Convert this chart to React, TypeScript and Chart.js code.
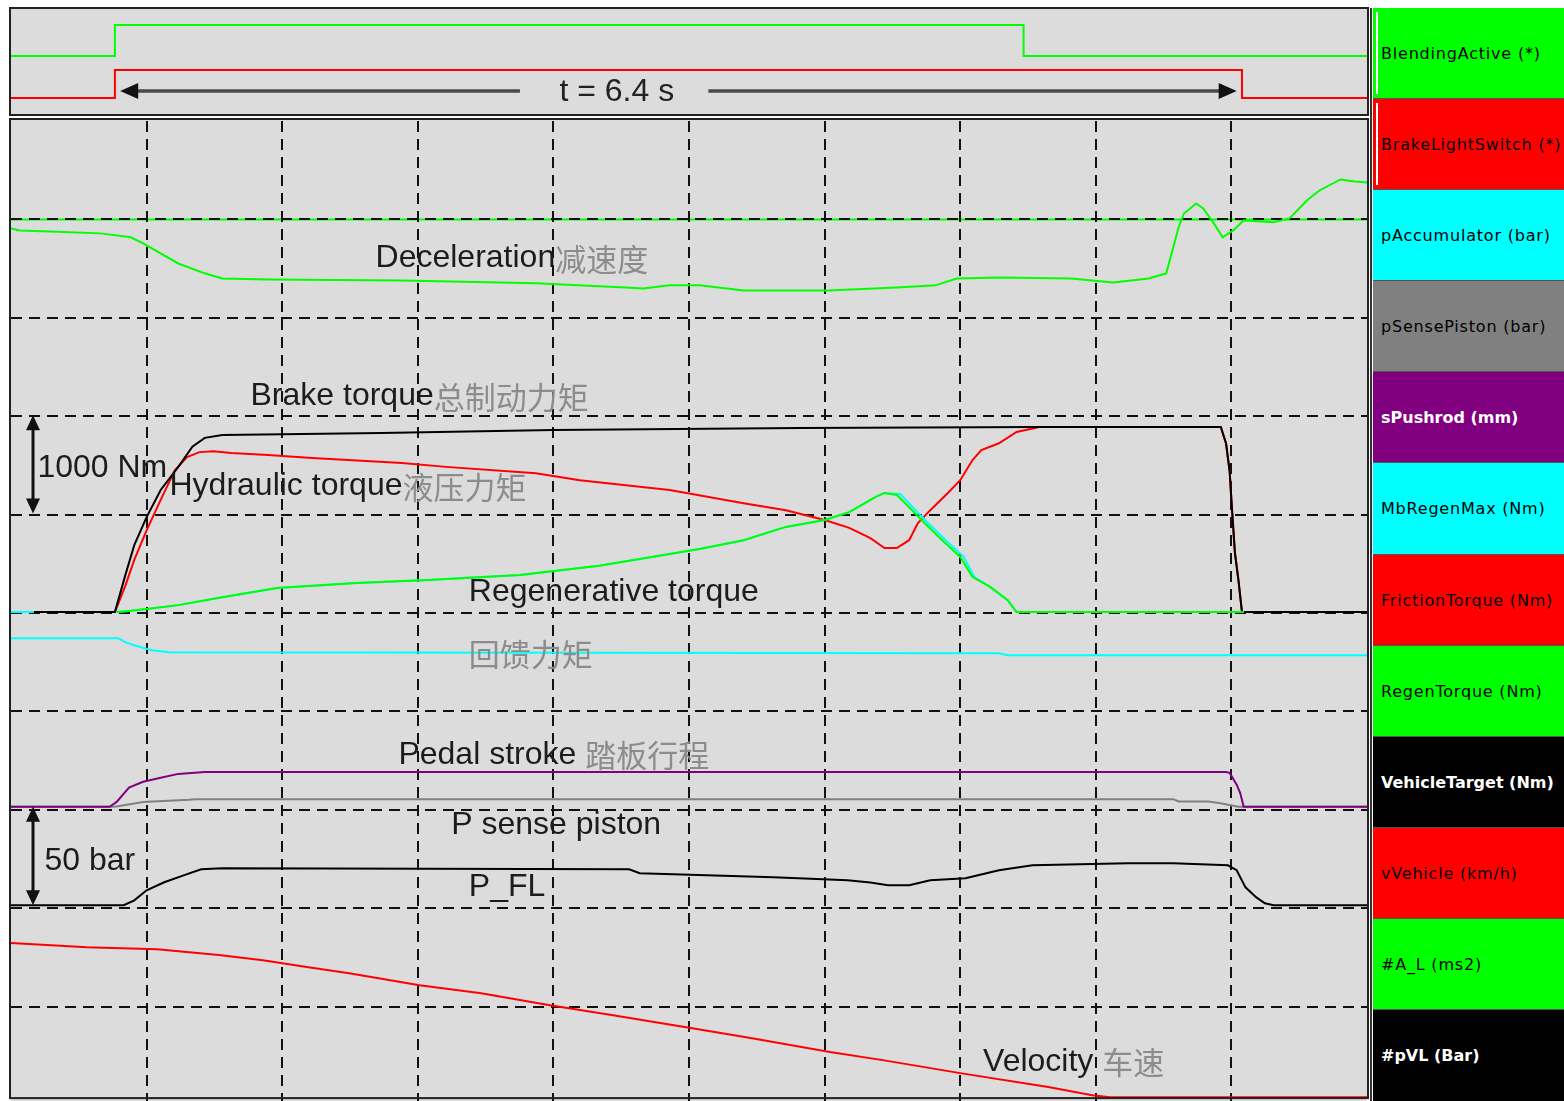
import React, { useEffect, useRef } from 'react';
import { Chart, registerables } from 'chart.js';

Chart.register(...registerables);

type Pt = [number, number | null];

// ---------------- time / grid ----------------
const TIME_MAX_S = 7.7;
const TIME_GRID_S = [0.77, 1.54, 2.31, 3.08, 3.85, 4.62, 5.39, 6.16, 6.93];
const DIV_GRID = [1, 2, 3, 4, 5, 6, 7, 8, 9];

// ---------------- top panel (digital) ----------------
const BLENDING_ACTIVE: Pt[] = [[0, 0], [0.59, 1], [5.75, 0], [7.7, 0]];
const BRAKE_LIGHT_SWITCH: Pt[] = [[0, 0], [0.59, 1], [6.99, 0], [7.7, 0]];
const DURATION_LABEL = 't = 6.4 s';

// ---------------- bottom panel (analog) ----------------
// Nm
const VEHICLE_TARGET_NM: Pt[] = [[0, 0], [0.59, 0], [0.65, 380], [0.70, 680], [0.77, 965], [0.85, 1240], [0.95, 1475], [1.03, 1680], [1.10, 1770], [1.20, 1800], [2.10, 1820], [3.08, 1850], [4.48, 1870], [5.84, 1880], [6.87, 1880], [6.90, 1710], [6.92, 1430], [6.93, 1140], [6.95, 600], [6.97, 325], [6.99, 0], [7.7, 0]];
const FRICTION_TORQUE_NM: Pt[] = [[0.59, 0], [0.65, 270], [0.70, 530], [0.77, 830], [0.85, 1140], [0.93, 1440], [1.00, 1575], [1.07, 1625], [1.15, 1635], [1.25, 1615], [1.46, 1595], [1.71, 1565], [2.22, 1515], [2.47, 1475], [2.98, 1410], [3.23, 1340], [3.74, 1240], [4.16, 1105], [4.40, 1035], [4.62, 935], [4.76, 855], [4.88, 750], [4.96, 650], [5.03, 650], [5.10, 730], [5.15, 905], [5.22, 1035], [5.32, 1210], [5.39, 1340], [5.46, 1545], [5.51, 1645], [5.61, 1715], [5.71, 1830], [5.84, 1880], [6.87, 1880], [6.90, 1710], [6.92, 1430], [6.93, 1140], [6.95, 600], [6.97, 325], [6.99, 0], [7.7, 0]];
const REGEN_TORQUE_NM: Pt[] = [[0.60, 0], [0.67, 10], [0.77, 30], [0.95, 70], [1.20, 150], [1.51, 245], [1.96, 295], [2.37, 325], [2.89, 375], [3.34, 470], [3.91, 640], [4.16, 730], [4.40, 865], [4.62, 935], [4.76, 1015], [4.91, 1170], [4.96, 1210], [5.03, 1190], [5.10, 1065], [5.17, 935], [5.27, 760], [5.39, 560], [5.46, 355], [5.56, 255], [5.66, 120], [5.71, 0], [7.00, 0]];
const MB_REGEN_MAX_NM: Pt[] = [[0, 0], [0.13, 0], [0.14, null], [0.59, null], [0.60, 0], [0.67, 10], [0.77, 30], [0.95, 70], [1.20, 150], [1.51, 245], [1.96, 295], [2.37, 325], [2.89, 375], [3.34, 470], [3.91, 640], [4.16, 730], [4.40, 865], [4.62, 935], [4.76, 1015], [4.91, 1170], [4.96, 1210], [5.05, 1200], [5.12, 1065], [5.19, 935], [5.29, 760], [5.41, 560], [5.47, 355], [5.56, 255], [5.66, 120], [5.71, 0], [7.00, 0]];
// mm
const PUSHROD_MM: Pt[] = [[0, 0], [0.56, 0], [0.60, 1.0], [0.67, 3.9], [0.75, 5.1], [0.85, 5.9], [0.95, 6.7], [1.10, 7.1], [6.90, 7.1], [6.92, 6.9], [6.96, 4.5], [6.98, 2.8], [7.00, 0], [7.7, 0]];
// bar
const SENSE_PISTON_BAR: Pt[] = [[0, 0], [0.59, 0], [0.75, 2.5], [1.01, 3.6], [1.05, 3.9], [6.60, 3.9], [6.63, 2.7], [6.80, 2.7], [6.86, 2.0], [6.97, 0], [7.7, 0]];
const P_FL_BAR: Pt[] = [[0, 0], [0.64, 0], [0.70, 2.5], [0.77, 7.6], [0.87, 11.7], [0.98, 15.2], [1.08, 18.3], [1.20, 18.8], [3.51, 18.3], [3.57, 16.3], [4.33, 14.2], [4.75, 12.7], [4.88, 11.5], [4.98, 10.2], [5.10, 10.2], [5.22, 12.7], [5.42, 13.7], [5.61, 17.8], [5.80, 20.3], [6.34, 21.3], [6.60, 21.3], [6.91, 20.3], [6.96, 17.8], [7.01, 9.1], [7.07, 4.1], [7.12, 1.0], [7.17, 0], [7.7, 0]];
const ACCUMULATOR_BAR: Pt[] = [[0, 135.7], [0.61, 135.7], [0.65, 133.6], [0.70, 132.1], [0.76, 130.6], [0.80, 129.6], [0.90, 128.6], [5.61, 128.0], [5.66, 127.0], [7.7, 127.0]];
// m/s^2
const ACCEL_MS2: Pt[] = [[0, -0.46], [0.05, -0.56], [0.22, -0.61], [0.51, -0.71], [0.68, -0.91], [0.75, -1.22], [0.95, -2.24], [1.10, -2.74], [1.20, -3.0], [1.46, -3.05], [2.22, -3.1], [2.98, -3.25], [3.49, -3.46], [3.59, -3.51], [3.74, -3.35], [3.91, -3.35], [4.16, -3.61], [4.64, -3.61], [5.03, -3.46], [5.25, -3.35], [5.37, -3.0], [5.61, -2.95], [6.02, -3.0], [6.26, -3.2], [6.46, -3.0], [6.56, -2.74], [6.58, -2.08], [6.60, -1.42], [6.63, -0.41], [6.66, 0.30], [6.73, 0.81], [6.77, 0.56], [6.83, -0.20], [6.88, -0.91], [6.94, -0.56], [7.00, -0.05], [7.17, -0.15], [7.26, 0.05], [7.36, 0.97], [7.43, 1.47], [7.55, 2.03], [7.63, 1.93], [7.70, 1.88]];
// km/h
const VELOCITY_KMH: Pt[] = [[0, 78.3], [0.43, 76.2], [0.83, 75.2], [1.18, 72.2], [1.43, 69.6], [1.68, 66.1], [1.92, 63.0], [2.32, 56.9], [2.67, 52.8], [3.06, 46.7], [3.41, 41.7], [3.86, 35.1], [4.20, 30.0], [4.65, 22.9], [4.95, 18.8], [5.39, 12.2], [5.89, 5.1], [6.14, 1.0], [6.24, 0], [7.7, 0]];

const LEGEND_NAMES = ['BlendingActive (*)', 'BrakeLightSwitch (*)', 'pAccumulator (bar)', 'pSensePiston (bar)', 'sPushrod (mm)', 'MbRegenMax (Nm)', 'FrictionTorque (Nm)', 'RegenTorque (Nm)', 'VehicleTarget (Nm)', 'vVehicle (km/h)', '#A_L (ms2)', '#pVL (Bar)'];

// ---------------- styles ----------------
const GREEN = '#00ff00';
const RED = '#ff0000';
const CYAN = '#00ffff';
const GRAY = '#808080';
const PURPLE = '#800080';
const BLACK = '#000000';
const PANEL_BG = '#dcdcdc';
const LEGEND_COLORS = [GREEN, RED, CYAN, GRAY, PURPLE, CYAN, RED, GREEN, BLACK, RED, GREEN, BLACK];
const LEGEND_TEXT = ['#000', '#000', '#000', '#000', '#fff', '#000', '#000', '#000', '#fff', '#000', '#000', '#fff'];

// channel axes: zero position (in grid divisions from bottom) and units per division
const CHANNEL_AXES: Record<string, { zeroDiv: number; perDiv: number }> = {
  yTorque: { zeroDiv: 5.01, perDiv: 1000 },
  yPress: { zeroDiv: 2.03, perDiv: 50 },
  yStroke: { zeroDiv: 3.03, perDiv: 20 },
  ySense: { zeroDiv: 3.03, perDiv: 50 },
  yAccel: { zeroDiv: 9.0, perDiv: 5 },
  yVel: { zeroDiv: 0.08, perDiv: 50 },
};

const TEXT_LABELS = [
  { t: 2.07, d: 8.61, en: 'Deceleration', zh: '减速度' },
  { t: 1.36, d: 7.20, en: 'Brake torque', zh: '总制动力矩' },
  { t: 0.15, d: 6.47, en: '1000 Nm', zh: '' },
  { t: 0.90, d: 6.29, en: 'Hydraulic torque', zh: '液压力矩' },
  { t: 2.60, d: 5.21, en: 'Regenerative torque', zh: '' },
  { t: 2.60, d: 4.59, en: '', zh: '回馈力矩' },
  { t: 2.20, d: 3.56, en: 'Pedal stroke ', zh: '踏板行程' },
  { t: 2.50, d: 2.84, en: 'P sense piston', zh: '' },
  { t: 0.19, d: 2.48, en: '50 bar', zh: '' },
  { t: 2.60, d: 2.21, en: 'P_FL', zh: '' },
  { t: 5.52, d: 0.44, en: 'Velocity ', zh: '车速' },
];
const SCALE_ARROWS = [
  { t: 0.125, axis: 'yTorque', from: 1000, to: 2000 },
  { t: 0.125, axis: 'yPress', from: 0, to: 50 },
];
const TOP_ARROW = { from: 0.62, to: 6.96, gapFrom: 2.89, gapTo: 3.96, textAt: 3.44, level: 0.25 };
const PANEL_BOTTOM_DIV = 0.07;

const EN_FONT = '32px "Liberation Sans", Arial, sans-serif';
const ZH_FONT = '31px "Noto Sans CJK SC", sans-serif';

const toXY = (pts: Pt[]) => pts.map(([x, y]) => ({ x, y }));

function line(ctx: CanvasRenderingContext2D, x0: number, y0: number, x1: number, y1: number) {
  ctx.beginPath();
  ctx.moveTo(x0, y0);
  ctx.lineTo(x1, y1);
  ctx.stroke();
}

function tri(ctx: CanvasRenderingContext2D, pts: number[][]) {
  ctx.beginPath();
  ctx.moveTo(pts[0][0], pts[0][1]);
  for (let i = 1; i < pts.length; i++) ctx.lineTo(pts[i][0], pts[i][1]);
  ctx.closePath();
  ctx.fill();
}

const topPlugin = {
  id: 'scopeTop',
  beforeDraw(chart: any) {
    const { ctx, chartArea: a } = chart;
    ctx.save();
    ctx.fillStyle = PANEL_BG;
    ctx.fillRect(a.left, a.top, a.right - a.left, a.bottom - a.top);
    ctx.restore();
  },
  afterDraw(chart: any) {
    const { ctx, chartArea: a, scales } = chart;
    const xs = scales.x;
    const y = scales.yBrake.getPixelForValue(TOP_ARROW.level);
    const x0 = xs.getPixelForValue(TOP_ARROW.from);
    const x1 = xs.getPixelForValue(TOP_ARROW.to);
    const g0 = xs.getPixelForValue(TOP_ARROW.gapFrom);
    const g1 = xs.getPixelForValue(TOP_ARROW.gapTo);
    ctx.save();
    ctx.strokeStyle = '#4a4a4a';
    ctx.lineWidth = 3.5;
    line(ctx, x0 + 14, y, g0, y);
    line(ctx, g1, y, x1 - 14, y);
    ctx.fillStyle = '#111';
    tri(ctx, [[x0, y], [x0 + 18, y - 8], [x0 + 18, y + 8]]);
    tri(ctx, [[x1, y], [x1 - 18, y - 8], [x1 - 18, y + 8]]);
    ctx.font = EN_FONT;
    ctx.fillStyle = '#222';
    ctx.textAlign = 'center';
    ctx.textBaseline = 'middle';
    ctx.fillText(DURATION_LABEL, xs.getPixelForValue(TOP_ARROW.textAt), y + 1);
    ctx.strokeStyle = '#222';
    ctx.lineWidth = 2;
    ctx.strokeRect(a.left - 1, a.top - 1, a.right - a.left + 2, a.bottom - a.top + 1);
    ctx.restore();
  },
};

const bottomPlugin = {
  id: 'scopeBottom',
  beforeDraw(chart: any) {
    const { ctx, chartArea: a, scales } = chart;
    ctx.save();
    ctx.fillStyle = PANEL_BG;
    ctx.fillRect(a.left, 0, a.right - a.left, chart.height);
    const y0 = scales.yAccel.getPixelForValue(0);
    ctx.strokeStyle = GREEN;
    ctx.lineWidth = 2;
    line(ctx, a.left, y0, a.right, y0);
    ctx.restore();
  },
  afterDraw(chart: any) {
    const { ctx, chartArea: a, scales } = chart;
    const xs = scales.x;
    const yg = scales.yGrid;
    ctx.save();
    ctx.textBaseline = 'middle';
    ctx.textAlign = 'left';
    for (const l of TEXT_LABELS) {
      const x = xs.getPixelForValue(l.t);
      const y = yg.getPixelForValue(l.d);
      let w = 0;
      if (l.en) {
        ctx.font = EN_FONT;
        ctx.fillStyle = '#1c1c1c';
        ctx.fillText(l.en, x, y);
        w = ctx.measureText(l.en).width;
      }
      if (l.zh) {
        ctx.font = ZH_FONT;
        ctx.fillStyle = '#8c8c8c';
        ctx.fillText(l.zh, x + w, y + 1);
      }
    }
    ctx.strokeStyle = '#111';
    ctx.fillStyle = '#111';
    ctx.lineWidth = 3;
    for (const ar of SCALE_ARROWS) {
      const x = xs.getPixelForValue(ar.t);
      const yA = scales[ar.axis].getPixelForValue(ar.from);
      const yB = scales[ar.axis].getPixelForValue(ar.to);
      const top = Math.min(yA, yB);
      const bot = Math.max(yA, yB);
      line(ctx, x, top + 10, x, bot - 10);
      tri(ctx, [[x, top], [x - 7, top + 15], [x + 7, top + 15]]);
      tri(ctx, [[x, bot], [x - 7, bot - 15], [x + 7, bot - 15]]);
    }
    const yb = yg.getPixelForValue(PANEL_BOTTOM_DIV);
    ctx.strokeStyle = '#222';
    ctx.lineWidth = 2;
    ctx.strokeRect(a.left - 1, 1, a.right - a.left + 2, yb - 1);
    ctx.restore();
  },
};

const ds = (label: string, data: Pt[], color: string, yAxisID: string, extra: any = {}) => ({
  label,
  data: toXY(data),
  borderColor: color,
  backgroundColor: color,
  borderWidth: 2,
  pointRadius: 0,
  tension: 0,
  fill: false,
  spanGaps: false,
  yAxisID,
  ...extra,
});

export default function App() {
  const topRef = useRef<HTMLCanvasElement>(null);
  const botRef = useRef<HTMLCanvasElement>(null);

  useEffect(() => {
    const common = {
      animation: false as const,
      responsive: false,
      devicePixelRatio: 1,
      events: [] as any[],
      plugins: { legend: { display: false }, tooltip: { enabled: false } },
    };

    const top = new Chart(topRef.current!, {
      type: 'line',
      data: {
        datasets: [
          ds('BlendingActive', BLENDING_ACTIVE, GREEN, 'yBlend', { stepped: true }),
          ds('BrakeLightSwitch', BRAKE_LIGHT_SWITCH, RED, 'yBrake', { stepped: true }),
        ],
      },
      options: {
        ...common,
        layout: { padding: { left: 11, right: 3, top: 9, bottom: 3 } },
        scales: {
          x: { type: 'linear', min: 0, max: TIME_MAX_S, display: false },
          yBlend: { type: 'linear', min: -1.903, max: 1.516, display: false },
          yBrake: { type: 'linear', min: -0.607, max: 3.179, display: false },
        },
      },
      plugins: [topPlugin],
    } as any);

    const channelScales: any = {};
    for (const [id, c] of Object.entries(CHANNEL_AXES)) {
      channelScales[id] = { type: 'linear', display: false, min: -c.zeroDiv * c.perDiv, max: (10 - c.zeroDiv) * c.perDiv };
    }

    const bot = new Chart(botRef.current!, {
      type: 'line',
      data: {
        datasets: [
          ds('RegenTorque (Nm)', REGEN_TORQUE_NM, GREEN, 'yTorque'),
          ds('MbRegenMax (Nm)', MB_REGEN_MAX_NM, CYAN, 'yTorque'),
          ds('VehicleTarget (Nm)', VEHICLE_TARGET_NM, BLACK, 'yTorque'),
          ds('FrictionTorque (Nm)', FRICTION_TORQUE_NM, RED, 'yTorque'),
          ds('sPushrod (mm)', PUSHROD_MM, PURPLE, 'yStroke'),
          ds('pSensePiston (bar)', SENSE_PISTON_BAR, GRAY, 'ySense'),
          ds('#pVL (Bar)', P_FL_BAR, BLACK, 'yPress'),
          ds('pAccumulator (bar)', ACCUMULATOR_BAR, CYAN, 'yPress'),
          ds('#A_L (ms2)', ACCEL_MS2, GREEN, 'yAccel'),
          ds('vVehicle (km/h)', VELOCITY_KMH, RED, 'yVel'),
        ],
      },
      options: {
        ...common,
        layout: { padding: { left: 11, right: 3, top: 3, bottom: 5 } },
        scales: {
          x: {
            type: 'linear', min: 0, max: TIME_MAX_S, display: true,
            ticks: { display: false },
            grid: { color: '#111', lineWidth: 2, drawTicks: false },
            border: { display: false, dash: [11, 7] },
            afterBuildTicks: (s: any) => { s.ticks = TIME_GRID_S.map((v) => ({ value: v })); },
          },
          yGrid: {
            type: 'linear', position: 'left', min: 0, max: 10, display: true,
            ticks: { display: false },
            grid: { color: '#111', lineWidth: 2, drawTicks: false },
            border: { display: false, dash: [11, 7] },
            afterBuildTicks: (s: any) => { s.ticks = DIV_GRID.map((v) => ({ value: v })); },
          },
          ...channelScales,
        },
      },
      plugins: [bottomPlugin],
    } as any);

    return () => {
      top.destroy();
      bot.destroy();
    };
  }, []);

  const boxH = 1093 / LEGEND_NAMES.length;

  return (
    <div style={{ position: 'fixed', left: 0, top: 0, width: 1564, height: 1101, overflow: 'hidden', background: '#fff' }}>
      <canvas ref={botRef} width={1370} height={992} style={{ position: 'absolute', left: 0, top: 118 }} />
      <canvas ref={topRef} width={1370} height={118} style={{ position: 'absolute', left: 0, top: 0 }} />
      <div style={{ position: 'absolute', left: 1370, top: 8, width: 2, height: 1093, background: '#333' }} />
      {LEGEND_NAMES.map((name, i) => {
        const bold = LEGEND_TEXT[i] === '#fff';
        return (
          <div
            key={name}
            style={{
              position: 'absolute',
              left: 1373,
              top: Math.round(8 + i * boxH),
              width: 191,
              height: Math.round(8 + (i + 1) * boxH) - Math.round(8 + i * boxH),
              background: LEGEND_COLORS[i],
              color: LEGEND_TEXT[i],
              display: 'flex',
              alignItems: 'center',
              paddingLeft: 8,
              boxSizing: 'border-box',
              fontFamily: '"DejaVu Sans", sans-serif',
              fontSize: 16,
              letterSpacing: bold ? 0 : 0.8,
              fontWeight: bold ? 'bold' : 'normal',
              whiteSpace: 'nowrap',
              overflow: 'hidden',
              borderBottom: i < LEGEND_NAMES.length - 1 ? '1px solid #555' : 'none',
            }}
          >
            {i < 2 && (
              <div style={{ position: 'absolute', left: 3, top: 4, bottom: 4, width: 2, background: '#fff' }} />
            )}
            {name}
          </div>
        );
      })}
    </div>
  );
}
